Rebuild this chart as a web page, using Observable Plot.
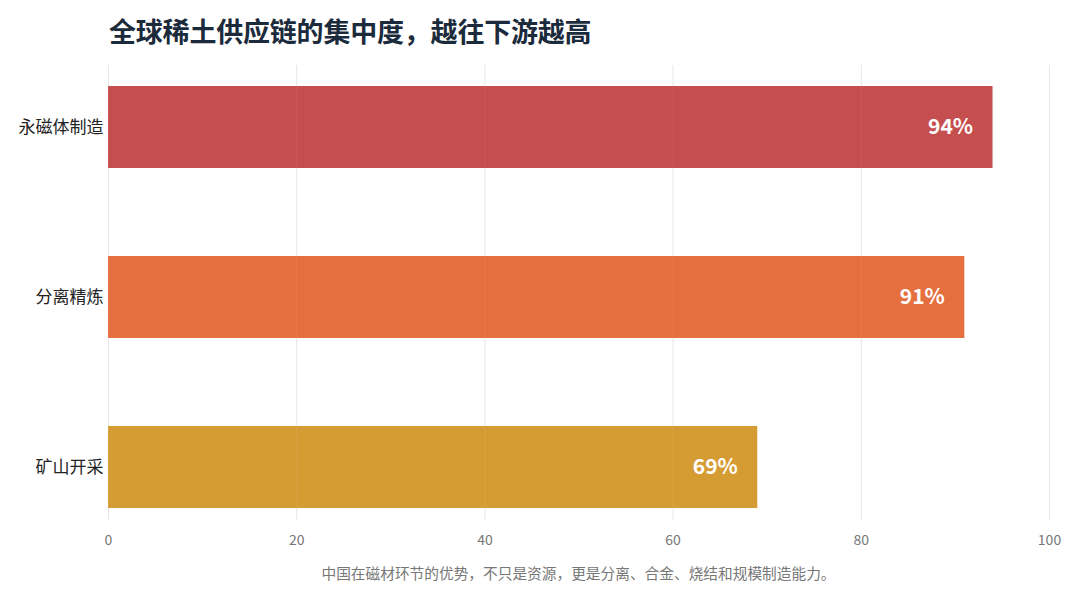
<!DOCTYPE html>
<html>
<head>
<meta charset="utf-8">
<script src="https://cdn.jsdelivr.net/npm/d3@7"></script>
<script src="https://cdn.jsdelivr.net/npm/@observablehq/plot@0.6"></script>
<style>
  html, body { margin: 0; padding: 0; background: #fff; }
  body { width: 1080px; height: 600px; overflow: hidden; font-family: "Noto Sans CJK SC", "Noto Sans", sans-serif; }
  #title { height: 58px; box-sizing: border-box; padding: 12px 0 0 109px; font-size: 27px; font-weight: 700; color: #1b2b3c; line-height: 38px; letter-spacing: -0.2px; }
  #chart svg { display: block; }
  #caption { margin-top: 5px; width: 1157px; text-align: center; font-size: 14.7px; color: #777; line-height: 20px; }
</style>
</head>
<body>
<div id="title">全球稀土供应链的集中度，越往下游越高</div>
<div id="chart"></div>
<div id="caption">中国在磁材环节的优势，不只是资源，更是分离、合金、烧结和规模制造能力。</div>
<script>
const stages = ["永磁体制造", "分离精炼", "矿山开采"];
const shares = [94, 91, 69];
const colors = ["#c44b4b", "#e66c3c", "#d59a30"];
const xTicks = [0, 20, 40, 60, 80, 100];

const data = stages.map((s, i) => ({stage: s, value: shares[i], color: colors[i]}));

const chart = Plot.plot({
  width: 1080,
  height: 500,
  marginLeft: 108,
  marginRight: 31,
  marginTop: 7,
  marginBottom: 38,
  style: {fontFamily: '"Noto Sans CJK SC", "Noto Sans", sans-serif', background: "#fff"},
  x: {domain: [0, 100], ticks: xTicks, label: null, tickSize: 0, tickPadding: 15},
  y: {domain: stages, range: [28, 450], paddingInner: 0.518, paddingOuter: 0, label: null, tickSize: 0, tickPadding: 5},
  marks: [
    Plot.gridX(xTicks, {stroke: "#e6e6e6", strokeOpacity: 1}),
    Plot.barX(data, {x: "value", y: "stage", fill: "color", fillOpacity: 0.98}),
    Plot.gridX(xTicks, {stroke: "#ffffff", strokeOpacity: 0.07}),
    Plot.text(data, {x: "value", y: "stage", text: d => d.value + "%", textAnchor: "end", dx: -20, fill: "white", fontWeight: 700, fontSize: 21}),
    Plot.axisX({ticks: xTicks, tickSize: 0, tickPadding: 15, fontSize: 14, color: "#777", label: null}),
    Plot.axisY({tickSize: 0, tickPadding: 5, fontSize: 17, color: "#222", label: null})
  ]
});
document.getElementById("chart").appendChild(chart);
</script>
</body>
</html>
